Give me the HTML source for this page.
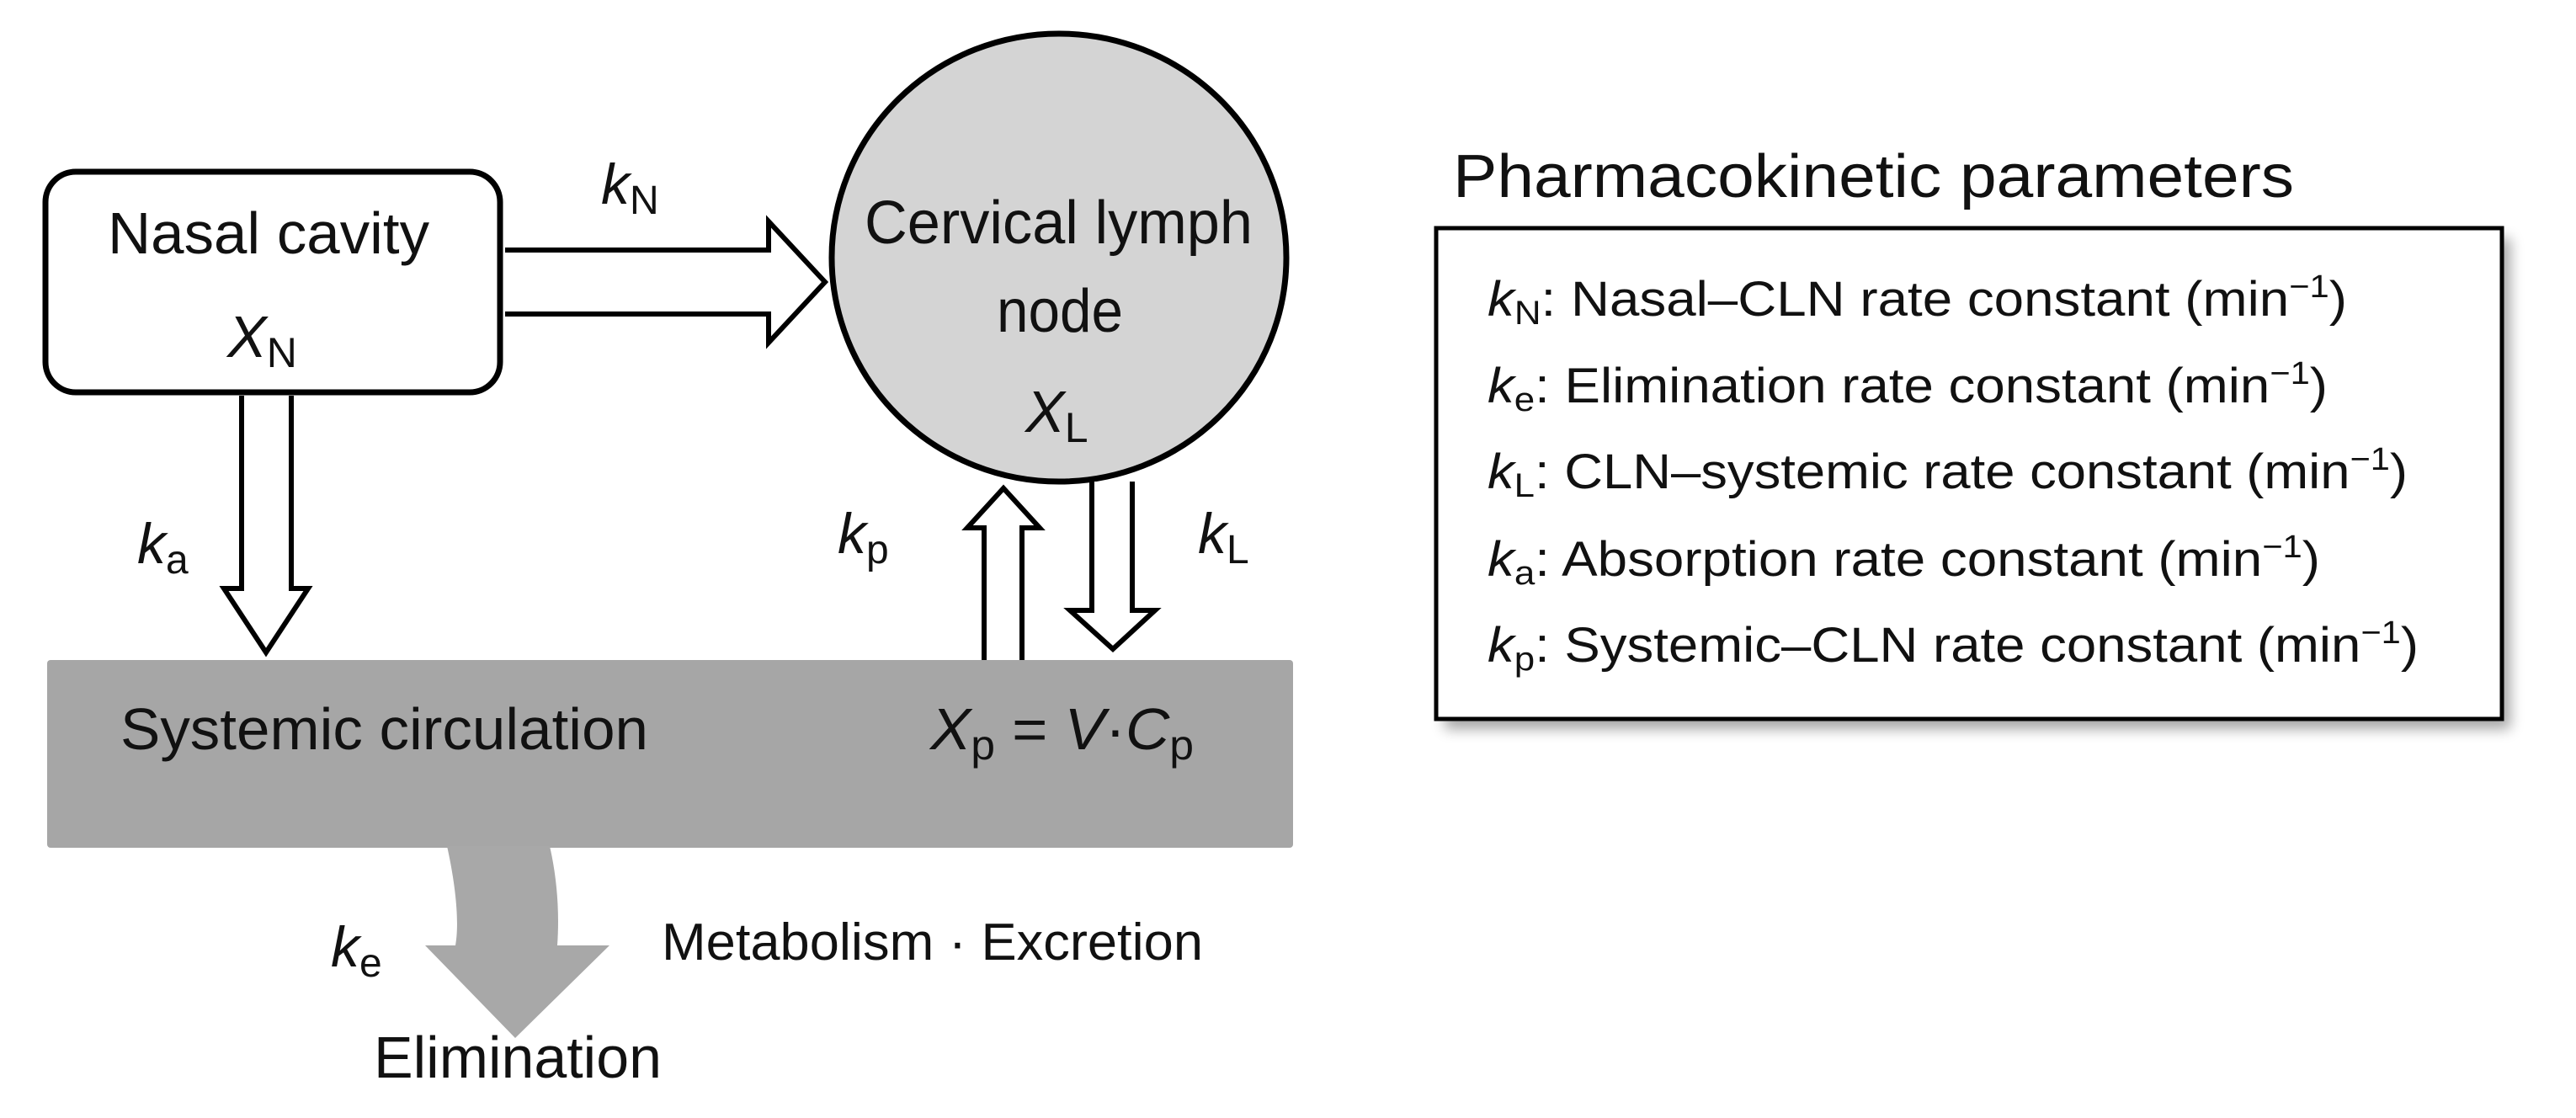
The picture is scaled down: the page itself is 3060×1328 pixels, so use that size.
<!DOCTYPE html>
<html><head><meta charset="utf-8"><style>html,body{margin:0;padding:0;background:#fff}svg{display:block}</style></head>
<body>
<svg width="3060" height="1328" viewBox="0 0 3060 1328" xmlns="http://www.w3.org/2000/svg" font-family="Liberation Sans, Arial, sans-serif" fill="#111">
<defs>
<filter id="sh" x="-5%" y="-5%" width="115%" height="120%"><feGaussianBlur stdDeviation="8"/></filter>
</defs>
<rect x="54" y="204" width="540" height="262" rx="36" fill="#fff" stroke="#000" stroke-width="7"/>
<text x="128" y="301" font-size="70" textLength="382" lengthAdjust="spacingAndGlyphs">Nasal cavity</text>
<text x="270" y="424" font-size="70" font-style="italic">X<tspan font-style="normal" font-size="50" dy="12">N</tspan></text>
<path d="M600,297 L913,297 L913,263 L980,335 L913,407 L913,373 L600,373" fill="#fff" stroke="#000" stroke-width="6"/>
<text x="714" y="242" font-size="68" font-style="italic">k<tspan font-style="normal" font-size="48" dy="12">N</tspan></text>
<ellipse cx="1258" cy="306" rx="270" ry="266" fill="#d4d4d4" stroke="#000" stroke-width="7"/>
<text x="1027" y="289" font-size="72" textLength="461" lengthAdjust="spacingAndGlyphs">Cervical lymph</text>
<text x="1184" y="394" font-size="72" textLength="150" lengthAdjust="spacingAndGlyphs">node</text>
<text x="1218" y="513" font-size="70" font-style="italic">X<tspan font-style="normal" font-size="50" dy="12">L</tspan></text>
<path d="M287,470 L287,699 L266,699 L316,775 L366,699 L346,699 L346,470" fill="#fff" stroke="#000" stroke-width="6"/>
<text x="163" y="669" font-size="68" font-style="italic">k<tspan font-style="normal" font-size="48" dy="12">a</tspan></text>
<rect x="56" y="784" width="1480" height="223" rx="4" fill="#a6a6a6"/>
<path d="M1169,784 L1169,627 L1149,627 L1192,580 L1235,627 L1214,627 L1214,784" fill="#fff" stroke="#000" stroke-width="6"/>
<text x="995" y="657" font-size="68" font-style="italic">k<tspan font-style="normal" font-size="48" dy="12">p</tspan></text>
<path d="M1297,572 L1297,725 L1271,725 L1322,771 L1372,725 L1345,725 L1345,572" fill="#fff" stroke="#000" stroke-width="6"/>
<text x="1423" y="657" font-size="68" font-style="italic">k<tspan font-style="normal" font-size="48" dy="12">L</tspan></text>
<text x="143" y="890" font-size="70" textLength="627" lengthAdjust="spacingAndGlyphs">Systemic circulation</text>
<text x="1105" y="890" font-size="70" textLength="313" lengthAdjust="spacingAndGlyphs"><tspan font-style="italic">X</tspan><tspan font-size="50" dy="12">p</tspan><tspan dy="-12"> = </tspan><tspan font-style="italic">V</tspan>·<tspan font-style="italic">C</tspan><tspan font-size="50" dy="12">p</tspan></text>
<path d="M531,1005 C541,1050 546,1095 541,1123 L505,1123 L612,1233 L724,1123 L662,1123 C665,1080 661,1040 653,1005 Z" fill="#a8a8a8"/>
<text x="393" y="1148" font-size="68" font-style="italic">k<tspan font-style="normal" font-size="48" dy="12">e</tspan></text>
<text x="786" y="1140" font-size="62" textLength="643" lengthAdjust="spacingAndGlyphs">Metabolism · Excretion</text>
<text x="444" y="1280" font-size="70" textLength="342" lengthAdjust="spacingAndGlyphs">Elimination</text>
<text x="1726" y="234" font-size="72" textLength="999" lengthAdjust="spacingAndGlyphs">Pharmacokinetic parameters</text>
<rect x="1716" y="283" width="1266" height="583" fill="#000" opacity="0.35" filter="url(#sh)"/>
<rect x="1706" y="271" width="1266" height="583" fill="#fff" stroke="#000" stroke-width="5"/>
<g font-size="58">
<text x="1767" y="375" textLength="1021" lengthAdjust="spacingAndGlyphs"><tspan font-style="italic">k</tspan><tspan font-size="40" dy="10">N</tspan><tspan dy="-10">: Nasal–CLN rate constant (min</tspan><tspan font-size="38" dy="-22">−1</tspan><tspan dy="22">)</tspan></text>
<text x="1767" y="478" textLength="998" lengthAdjust="spacingAndGlyphs"><tspan font-style="italic">k</tspan><tspan font-size="40" dy="10">e</tspan><tspan dy="-10">: Elimination rate constant (min</tspan><tspan font-size="38" dy="-22">−1</tspan><tspan dy="22">)</tspan></text>
<text x="1767" y="580" textLength="1093" lengthAdjust="spacingAndGlyphs"><tspan font-style="italic">k</tspan><tspan font-size="40" dy="10">L</tspan><tspan dy="-10">: CLN–systemic rate constant (min</tspan><tspan font-size="38" dy="-22">−1</tspan><tspan dy="22">)</tspan></text>
<text x="1767" y="684" textLength="989" lengthAdjust="spacingAndGlyphs"><tspan font-style="italic">k</tspan><tspan font-size="40" dy="10">a</tspan><tspan dy="-10">: Absorption rate constant (min</tspan><tspan font-size="38" dy="-22">−1</tspan><tspan dy="22">)</tspan></text>
<text x="1767" y="786" textLength="1106" lengthAdjust="spacingAndGlyphs"><tspan font-style="italic">k</tspan><tspan font-size="40" dy="10">p</tspan><tspan dy="-10">: Systemic–CLN rate constant (min</tspan><tspan font-size="38" dy="-22">−1</tspan><tspan dy="22">)</tspan></text>
</g>
</svg>
</body></html>
